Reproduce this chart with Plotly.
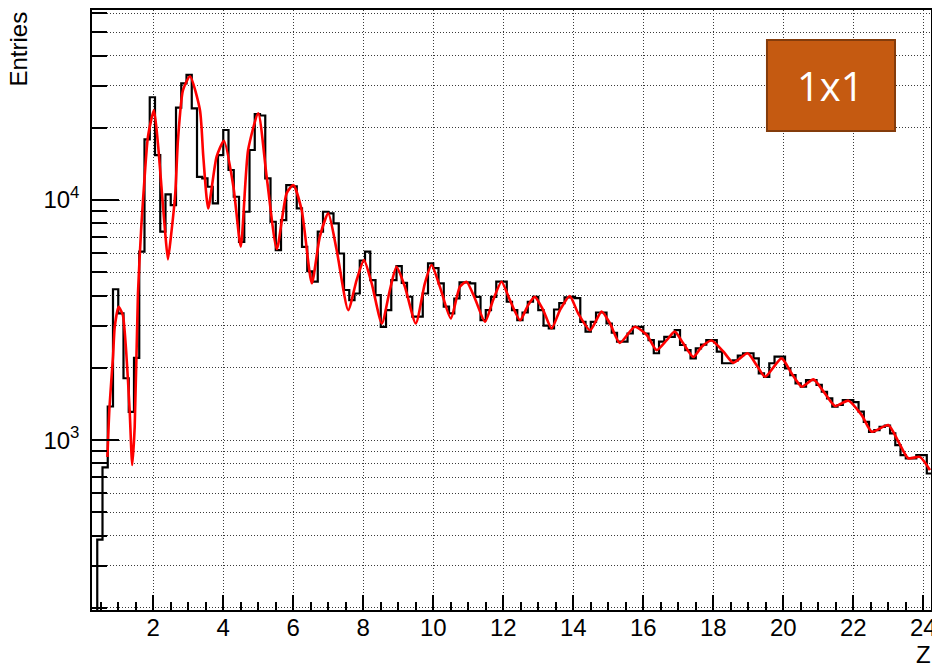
import numpy as np
import plotly.graph_objects as go

# Histogram of reconstructed charge Z: 160 bins of width 0.15 starting at Z = 0.25
bin_lo = 0.25
bin_width = 0.15
counts = [
    150, 385, 770, 1380, 4250, 3370, 1810, 1310, 2200, 6100,
    17900, 26800, 15400, 7380, 10560, 9530, 24250, 30600, 33200, 24100,
    12500, 12300, 11360, 9690, 15400, 19580, 13340, 10320, 6700, 8940,
    16160, 22800, 22500, 12310, 8120, 6190, 8250, 11550, 11400, 9230,
    6380, 5050, 4570, 7380, 8940, 8800, 8000, 5990, 4220, 3830,
    4080, 5600, 6100, 4640, 4020, 2965, 3480, 4640, 5310, 4520,
    3955, 3270, 3270, 4080, 5450, 5200, 4500, 3600, 3370, 3890,
    4540, 4540, 4500, 3950, 3160, 3480, 3950, 4570, 4570, 3770,
    3480, 3160, 3400, 3770, 3950, 3480, 3000, 2920, 3500, 3720,
    3935, 3950, 3900, 3110, 2830, 3110, 3400, 3400, 3060, 2800,
    2570, 2570, 2780, 2965, 2965, 2780, 2610, 2300, 2570, 2690,
    2690, 2870, 2490, 2370, 2190, 2410, 2500, 2610, 2610, 2335,
    2090, 2090, 2150, 2250, 2300, 2300, 2190, 1895, 1835, 2090,
    2225, 2225, 1990, 1865, 1722, 1668, 1778, 1778, 1700, 1590,
    1492, 1377, 1400, 1468, 1468, 1440, 1313, 1191, 1083, 1100,
    1136, 1150, 1066, 953, 866, 840, 840, 866, 866, 726,
]

# Multi-peak fit curve, sampled along Z
fit_z = [
    0.69, 0.75, 0.85, 0.90, 1.01, 1.13, 1.23, 1.325, 1.40, 1.47,
    1.563, 1.658, 1.754, 1.849, 2.02, 2.134, 2.249, 2.343, 2.42, 2.515,
    2.63, 2.706, 2.85, 3.05, 3.334, 3.43, 3.57, 3.81, 4.02, 4.29,
    4.50, 4.71, 5.00, 5.24, 5.53, 5.81, 6.00, 6.24, 6.53, 6.76,
    7.00, 7.24, 7.57, 7.81, 8.02, 8.24, 8.53, 8.76, 8.95, 9.19,
    9.50, 9.76, 9.95, 10.19, 10.50, 10.76, 10.95, 11.19, 11.48, 11.71,
    11.95, 12.19, 12.48, 12.71, 12.90, 13.14, 13.38, 13.62, 13.90, 14.14,
    14.48, 14.81, 15.05, 15.33, 15.76, 16.10, 16.38, 16.67, 16.90, 17.14,
    17.43, 17.67, 17.95, 18.29, 18.57, 18.98, 19.24, 19.48, 19.95, 20.24,
    20.53, 20.86, 21.19, 21.48, 21.86, 22.24, 22.53, 23.00, 23.29, 23.57,
    23.90, 24.19,
]
fit_val = [
    850, 1377, 2220, 2965, 3590, 3320, 2300, 1335, 787, 1136,
    4080, 7740, 12500, 18370, 23700, 17200, 10660, 7260, 5660, 7260,
    10700, 17800, 28700, 32800, 23700, 15150, 9230, 15150, 17650, 11360,
    6400, 16150, 22970, 12500, 6250, 10660, 11550, 9090, 4500, 7040,
    8800, 6190, 3480, 4640, 5620, 4500, 3060, 4220, 5270, 4350,
    3060, 4500, 5360, 4350, 3210, 4350, 4570, 3890, 3110, 3830,
    4570, 3830, 3160, 3650, 3950, 3480, 2920, 3480, 3980, 3370,
    2870, 3430, 3060, 2540, 2965, 2740, 2370, 2610, 2830, 2530,
    2220, 2450, 2600, 2335, 2100, 2300, 2050, 1835, 2190, 1895,
    1668, 1790, 1563, 1386, 1460, 1271, 1083, 1155, 984, 840,
    851, 750,
]

x_major = list(range(2, 25, 2))
x_minor = [v * 0.5 for v in range(1, 49) if (v * 0.5) % 2 != 0]
y_major = [1000, 10000]
y_major_text = ["10<sup>3</sup>", "10<sup>4</sup>"]
y_minor = [m * 10 ** e for e in (2, 3, 4) for m in range(2, 10) if m * 10 ** e <= 60000]

edges = bin_lo + bin_width * np.arange(len(counts) + 1)
step_y = counts + [counts[-1]]

font_main = "Liberation Sans, Arial, sans-serif"
grid_col = "#3a3a3a"
grid_dash = "1px,2px"

fig = go.Figure()
fig.add_trace(go.Scatter(
    x=edges, y=step_y, mode="lines",
    line=dict(color="black", width=2.2, shape="hv"),
    hoverinfo="skip",
))
fig.add_trace(go.Scatter(
    x=fit_z, y=fit_val, mode="lines",
    line=dict(color="#ff0000", width=2.6, shape="spline", smoothing=0.6),
    hoverinfo="skip",
))

fig.update_layout(
    width=932, height=663,
    margin=dict(l=92, r=1, t=10, b=53, autoexpand=False),
    paper_bgcolor="white", plot_bgcolor="white",
    showlegend=False,
    font=dict(family=font_main, size=24, color="black"),
)

fig.update_xaxes(
    range=[0.25, 24.22], automargin=False,
    tickmode="array", tickvals=x_major, ticktext=[str(v) for v in x_major],
    ticks="inside", ticklen=15, tickwidth=1.5, tickcolor="black",
    ticklabelstandoff=-5, ticklabeloverflow="allow",
    showline=True, linecolor="black", linewidth=1.5, mirror=True,
    showgrid=True, gridcolor=grid_col, gridwidth=1, griddash=grid_dash,
    zeroline=False,
    tickfont=dict(family=font_main, size=24, color="black"),
    minor=dict(tickmode="array", tickvals=x_minor, ticks="inside",
               ticklen=8, tickwidth=1.5, tickcolor="black", showgrid=False),
)

fig.update_yaxes(
    type="log", automargin=False,
    range=[np.log10(196), np.log10(61900)],
    tickmode="array", tickvals=y_major, ticktext=y_major_text,
    ticks="inside", ticklen=27, tickwidth=1.5, tickcolor="black",
    ticklabelstandoff=6,
    showline=True, linecolor="black", linewidth=1.5, mirror=True,
    showgrid=True, gridcolor=grid_col, gridwidth=1, griddash=grid_dash,
    zeroline=False,
    tickfont=dict(family=font_main, size=24, color="black"),
    minor=dict(tickmode="array", tickvals=y_minor, ticks="inside",
               ticklen=15, tickwidth=1.5, tickcolor="black",
               showgrid=True, gridcolor=grid_col, gridwidth=1, griddash=grid_dash),
)

# Axis titles in ROOT style: y title at the top-left, x title at the bottom-right
fig.add_annotation(
    text="Entries", xref="paper", yref="paper",
    x=-0.0882, y=1.0, xanchor="center", yanchor="top",
    textangle=-90, showarrow=False,
    font=dict(family=font_main, size=24, color="black"),
)
fig.add_annotation(
    text="Z", xref="paper", yref="paper",
    x=0.9905, y=-0.0483, xanchor="center", yanchor="top",
    showarrow=False,
    font=dict(family=font_main, size=24, color="black"),
)

# Label box
fig.add_shape(
    type="rect", xref="paper", yref="paper",
    x0=0.8045, x1=0.9571, y0=0.7983, y1=0.95,
    fillcolor="#C55A11", line=dict(color="#843C0C", width=2),
    layer="above",
)
fig.add_annotation(
    text="1x1", xref="paper", yref="paper",
    x=(0.8045 + 0.9571) / 2, y=(0.7983 + 0.95) / 2,
    xanchor="center", yanchor="middle", showarrow=False,
    font=dict(family="Open Sans, sans-serif", size=40, color="white"),
)

fig.write_html("out.html")
